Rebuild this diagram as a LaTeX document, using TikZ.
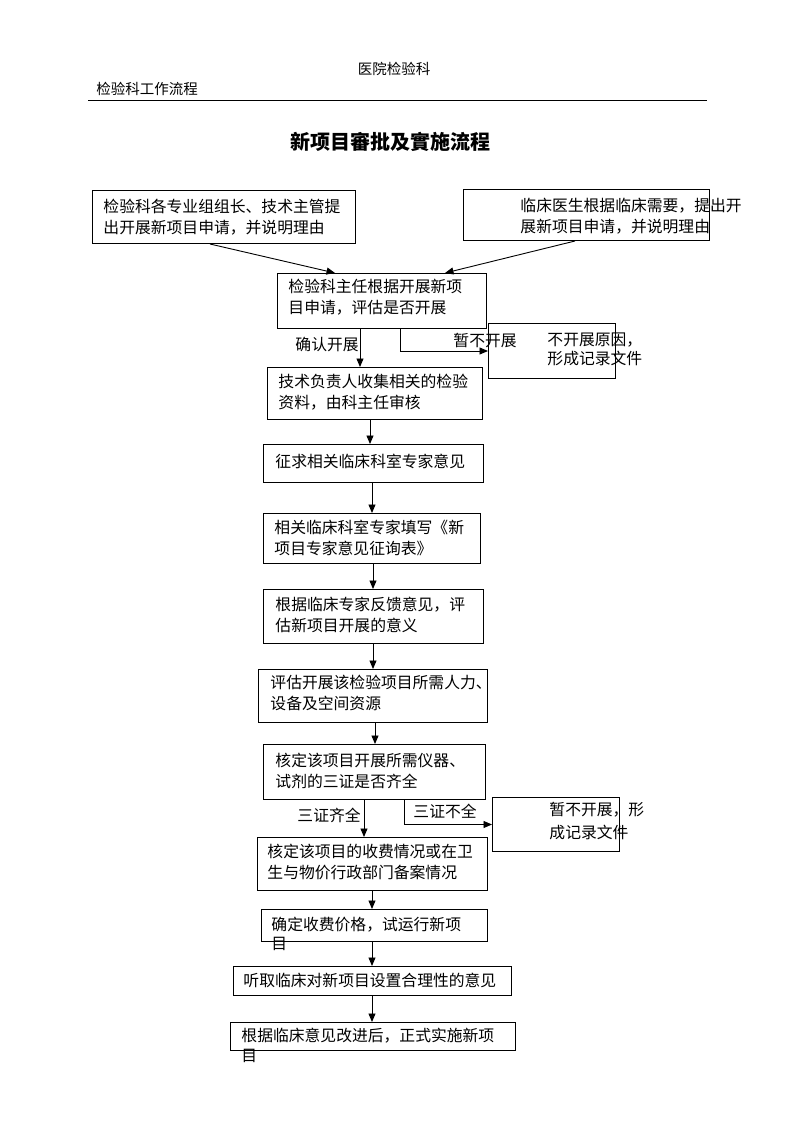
\documentclass[tikz,border=0pt]{standalone}
\usepackage{fontspec}
\setmainfont{Noto Sans CJK SC}
\usetikzlibrary{arrows.meta}

\tikzset{
  box/.style={draw, line width=1pt, inner sep=0pt, anchor=north west},
  txt/.style={anchor=base west, align=left, inner sep=0pt, font=\fontsize{15.8}{21}\selectfont},
  tighttxt/.style={txt, font=\fontsize{15.8}{18.5}\selectfont},
  lbl/.style={anchor=base west, inner sep=0pt, font=\fontsize{15.8}{19}\selectfont}
}

\begin{document}
\begin{tikzpicture}[x=1pt, y=-1pt, line width=0.9pt, >={Triangle[length=8.5pt,width=7pt]}]
\useasboundingbox (0,0) rectangle (793,1122);

\node[anchor=base, inner sep=0pt, font=\fontsize{14.5}{17}\selectfont] (hosp) at (394,74) {医院检验科};
\node[anchor=base west, inner sep=0pt, font=\fontsize{14.5}{17}\selectfont] (dept) at (96,94) {检验科工作流程};
\draw[line width=1pt] (88,100) coordinate (rulel) -- (707,100) coordinate (ruler);
\node[anchor=base, inner sep=0pt, font=\fontsize{20}{24}\selectfont\bfseries] (title) at (390,149) {新项目審批及實施流程};

\node[box, minimum width=263pt, minimum height=53pt] (a) at (92,190) {};
\node[box, minimum width=246pt, minimum height=51pt] (b) at (463,189) {};
\node[box, minimum width=209pt, minimum height=55pt] (c) at (277,273) {};
\node[box, minimum width=127pt, minimum height=55pt] (d) at (488,323) {};
\node[box, minimum width=215pt, minimum height=52pt] (e) at (267,367) {};
\node[box, minimum width=220pt, minimum height=38pt] (f) at (263,444) {};
\node[box, minimum width=217pt, minimum height=50pt] (g) at (263,513) {};
\node[box, minimum width=220pt, minimum height=54pt] (h) at (263,589) {};
\node[box, minimum width=229pt, minimum height=53pt] (i) at (258,669) {};
\node[box, minimum width=222pt, minimum height=55pt] (j) at (263,744) {};
\node[box, minimum width=127pt, minimum height=54pt] (k) at (492,797) {};
\node[box, minimum width=230pt, minimum height=53pt] (l) at (257,837) {};
\node[box, minimum width=226pt, minimum height=32pt] (m) at (261,909) {};
\node[box, minimum width=278pt, minimum height=29pt] (n) at (233,966) {};
\node[box, minimum width=285pt, minimum height=28pt] (o) at (230,1022) {};

\node[txt] (a-t) at (103,233) {检验科各专业组组长、技术主管提\\出开展新项目申请，并说明理由};
\node[txt] (b-t) at (520,232) {临床医生根据临床需要，提出开\\展新项目申请，并说明理由};
\node[txt] (c-t) at (288,313) {检验科主任根据开展新项\\目申请，评估是否开展};
\node[tighttxt] (d-t) at (547,364) {不开展原因，\\形成记录文件};
\node[txt] (e-t) at (278,408) {技术负责人收集相关的检验\\资料，由科主任审核};
\node[txt] (f-t) at (275,467) {征求相关临床科室专家意见};
\node[txt] (g-t) at (274,554) {相关临床科室专家填写《新\\项目专家意见征询表》};
\node[txt] (h-t) at (275,631) {根据临床专家反馈意见，评\\估新项目开展的意义};
\node[txt] (i-t) at (270,709) {评估开展该检验项目所需人力、\\设备及空间资源};
\node[txt] (j-t) at (275,787) {核定该项目开展所需仪器、\\试剂的三证是否齐全};
\node[txt, font=\fontsize{15.8}{23}\selectfont] (k-t) at (549,838) {暂不开展，形\\成记录文件};
\node[txt] (l-t) at (267,878) {核定该项目的收费情况或在卫\\生与物价行政部门备案情况};
\node[tighttxt] (m-t) at (271,949) {确定收费价格，试运行新项\\目};
\node[txt] (n-t) at (243,986) {听取临床对新项目设置合理性的意见};
\node[txt, font=\fontsize{15.8}{20}\selectfont] (o-t) at (241,1061) {根据临床意见改进后，正式实施新项\\目};

\node[lbl] (yes1) at (295,350) {确认开展};
\node[lbl] (no1) at (453,346) {暂不开展};
\node[lbl] (yes2) at (297,821) {三证齐全};
\node[lbl] (no2) at (413,817) {三证不全};

\draw[->] (a.south -| 210,0) -- (c.north -| 335,0);
\draw[->] (b.south -| 575,0) -- (c.north -| 445,0);
\draw[->] (c.south -| 360,0) -- (e.north -| 360,0);
\draw[->] (c.south -| 400,0) |- (d.west);
\draw[->] (e.south -| 370,0) -- (f.north -| 370,0);
\draw[->] (f.south -| 372,0) -- (g.north -| 372,0);
\draw[->] (g.south -| 373,0) -- (h.north -| 373,0);
\draw[->] (h.south -| 373,0) -- (i.north -| 373,0);
\draw[->] (i.south -| 375,0) -- (j.north -| 375,0);
\draw[->] (j.south -| 364,0) -- (l.north -| 364,0);
\draw[->] (j.south -| 404,0) |- (k.west);
\draw[->] (l.south -| 372,0) -- (m.north -| 372,0);
\draw[->] (m.south -| 372,0) -- (n.north -| 372,0);
\draw[->] (n.south -| 372,0) -- (o.north -| 372,0);
\end{tikzpicture}
\end{document}
